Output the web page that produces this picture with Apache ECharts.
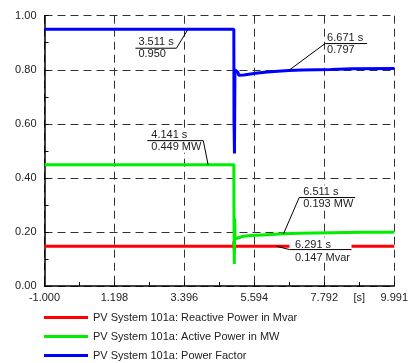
<!DOCTYPE html>
<html>
<head>
<meta charset="utf-8">
<script src="https://cdn.jsdelivr.net/npm/echarts@6/dist/echarts.min.js"></script>
<style>
  html, body { margin: 0; padding: 0; background: #fff; }
  #main { width: 411px; height: 363px; }
</style>
</head>
<body>
<div id="main"></div>
<script>
// x axis: time in seconds
var xTicks = [-1.000, 1.198, 3.396, 5.594, 7.792, 9.991];
var yTicks = [0, 0.2, 0.4, 0.6, 0.8, 1.0];

var seriesNames = [
  'PV System 101a: Reactive Power in Mvar',
  'PV System 101a: Active Power in MW',
  'PV System 101a: Power Factor'
];

// Reactive power (Mvar)
var qTime = [-1, 4.95, 4.955, 4.965, 4.975, 9.991];
var qVal  = [0.147, 0.147, 0.165, 0.130, 0.147, 0.147];

// Active power (MW)
var pTime = [-1, 4.95, 4.955, 4.965, 4.975, 4.99, 5.05, 5.25, 5.5, 6.0, 6.511, 7.0, 8.0, 9.0, 9.991];
var pVal  = [0.449, 0.449, 0.25, 0.081, 0.25, 0.175, 0.182, 0.184, 0.187, 0.190, 0.193, 0.195, 0.197, 0.199, 0.199];

// Power factor
var pfTime = [-1, 4.95, 4.955, 4.97, 4.985, 5.08, 5.10, 5.26, 5.3, 5.7, 6.0, 6.671, 7.1, 8.0, 8.65, 9.991];
var pfVal  = [0.950, 0.950, 0.62, 0.49, 0.80, 0.79, 0.78, 0.781, 0.786, 0.788, 0.792, 0.797, 0.799, 0.801, 0.804, 0.805];

// cursor annotations
var annTime  = [3.511, 6.671, 4.141, 6.511, 6.291];
var annValue = [0.950, 0.797, 0.449, 0.193, 0.147];
var annUnit  = ['', '', ' MW', ' MW', ' Mvar'];

// where the annotation boxes sit relative to their point (pixels)
var annLayout = [
  { dx: -11.6, dy: 19,    len: 41, side: -1, pad: 3, up: 6, down: 6 },
  { dx: 36.5,  dy: -27,   len: 42, side: 1,  pad: 2, up: 6, down: 6.3 },
  { dx: -4.8,  dy: -24,   len: 56, side: -1, pad: 4, up: 6, down: 6.5 },
  { dx: 15.7,  dy: -36.3, len: 56, side: 1,  pad: 4, up: 6, down: 6 },
  { dx: 13,    dy: 3.3,   len: 62, side: 1,  pad: 5.5, up: 5, down: 8 }
];

function pairs(t, v) {
  return t.map(function (x, i) { return [x, v[i]]; });
}

var FONT = '"Liberation Sans", Arial, sans-serif';
var colors = ['#ff0000', '#00ee00', '#0000ff'];

var xMin = xTicks[0], xMax = xTicks[xTicks.length - 1];
var xMinor = [];
for (var i = 0; i < xTicks.length - 1; i++) xMinor.push((xTicks[i] + xTicks[i + 1]) / 2);

var chart = echarts.init(document.getElementById('main'));
chart.setOption({
  animation: false,
  backgroundColor: '#fff',
  grid: { left: 44.5, right: 13, top: 15.7, bottom: 77 },
  legend: {
    orient: 'vertical', left: 44, top: 312, padding: 0,
    itemWidth: 44, itemHeight: 3, itemGap: 8, icon: 'rect',
    textStyle: { fontSize: 11, fontFamily: FONT, color: '#222' },
    data: seriesNames
  },
  xAxis: [{
    type: 'value', min: xMin, max: xMax,
    axisLine: { onZero: false, lineStyle: { color: '#000', width: 1.5 } },
    axisTick: { show: true, inside: true, length: 4, customValues: xTicks, lineStyle: { color: '#000' } },
    axisLabel: {
      customValues: xTicks, margin: 6, fontSize: 11, fontFamily: FONT, color: '#222',
      formatter: function (v) { return v.toFixed(3); }
    },
    splitLine: { show: true, lineStyle: { color: '#333', width: 1, type: [8, 5] } }
  }, {
    type: 'value', min: xMin, max: xMax, position: 'bottom',
    axisLine: { show: false, onZero: false },
    axisLabel: { show: false },
    splitLine: { show: false },
    axisTick: { show: true, inside: true, length: 4, customValues: xMinor, lineStyle: { color: '#000' } }
  }],
  yAxis: {
    type: 'value', min: 0, max: 1, interval: 0.2,
    axisLine: { show: true, onZero: false, lineStyle: { color: '#000', width: 1.5 } },
    axisTick: { show: true, inside: true, length: 4, lineStyle: { color: '#000' } },
    minorTick: { show: true, splitNumber: 2, length: 4, lineStyle: { color: '#000' } },
    axisLabel: {
      margin: 8, fontSize: 11, fontFamily: FONT, color: '#222',
      formatter: function (v) { return v.toFixed(2); }
    },
    splitLine: { show: true, lineStyle: { color: '#333', width: 1, type: [8, 5] } }
  },
  series: [
    { name: seriesNames[0], type: 'line', data: pairs(qTime, qVal), showSymbol: false, symbol: 'none',
      lineStyle: { color: colors[0], width: 3 }, itemStyle: { color: colors[0] } },
    { name: seriesNames[1], type: 'line', data: pairs(pTime, pVal), showSymbol: false, symbol: 'none',
      lineStyle: { color: colors[1], width: 3 }, itemStyle: { color: colors[1] } },
    { name: seriesNames[2], type: 'line', data: pairs(pfTime, pfVal), showSymbol: false, symbol: 'none',
      lineStyle: { color: colors[2], width: 3 }, itemStyle: { color: colors[2] } }
  ]
});

// annotation boxes drawn after the axes exist
var FONT11 = '11px ' + FONT;
var elements = [];
annTime.forEach(function (t, i) {
  var L = annLayout[i];
  var p = chart.convertToPixel({ xAxisIndex: 0, yAxisIndex: 0 }, [t, annValue[i]]);
  var ax = p[0] + L.dx, ay = p[1] + L.dy;
  var bx = ax + L.side * L.len;
  var left = Math.min(ax, bx), right = Math.max(ax, bx);
  var txtStyle = { fill: '#222', font: FONT11, align: 'left', verticalAlign: 'middle' };
  elements.push({
    type: 'rect', z: 100,
    shape: { x: left, y: ay - 12, width: right - left, height: 24 },
    style: { fill: '#fff' }
  });
  elements.push({
    type: 'line', z: 101,
    shape: { x1: left, y1: ay, x2: right, y2: ay },
    style: { stroke: '#000', lineWidth: 1 }
  });
  elements.push({
    type: 'line', z: 101,
    shape: { x1: ax, y1: ay, x2: p[0], y2: p[1] },
    style: { stroke: '#000', lineWidth: 1 }
  });
  elements.push({
    type: 'text', z: 102,
    style: Object.assign({ text: t.toFixed(3) + ' s', x: left + L.pad, y: ay - L.up }, txtStyle)
  });
  elements.push({
    type: 'text', z: 102,
    style: Object.assign({ text: annValue[i].toFixed(3) + annUnit[i], x: left + L.pad, y: ay + L.down }, txtStyle)
  });
});

// unit label between the last two x tick labels
var ends = chart.convertToPixel({ xAxisIndex: 0, yAxisIndex: 0 }, [xMax, 0]);
elements.push({
  type: 'text', z: 102,
  style: { text: '[s]', x: ends[0] - 35, y: ends[1] + 11.5, fill: '#222', font: FONT11, align: 'center', verticalAlign: 'middle' }
});
chart.setOption({ graphic: { elements: elements } });
</script>
</body>
</html>
